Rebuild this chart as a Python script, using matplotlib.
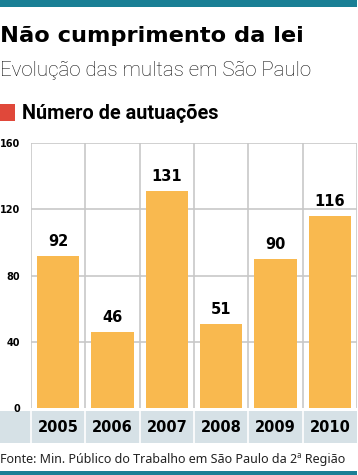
import matplotlib
matplotlib.use("Agg")
import matplotlib.pyplot as plt
from matplotlib.patches import Rectangle
import matplotlib.transforms as mtrans

years = ["2005", "2006", "2007", "2008", "2009", "2010"]
values = [92, 46, 131, 51, 90, 116]
yticks = [0, 40, 80, 120, 160]

W, H = 358, 475
fig = plt.figure(figsize=(W / 100, H / 100), dpi=100)
fig.patch.set_facecolor("white")

TEAL = "#1a7f95"
BAR = "#f9b94f"
BAND = "#d6e1e6"
GRID = "#c8c8c8"
RED = "#e0483a"

def fx(px):
    return px / W

def fy(py):
    return 1 - py / H

# top and bottom teal bands
fig.patches.append(Rectangle((0, fy(7)), fx(357), 7 / H, transform=fig.transFigure,
                             facecolor=TEAL, edgecolor="none"))
fig.patches.append(Rectangle((0, 0), fx(357), 4 / H, transform=fig.transFigure,
                             facecolor=TEAL, edgecolor="none"))

fig.text(0, fy(36), "Não cumprimento da lei", fontsize=16.2, fontweight="heavy",
         color="black", va="center", ha="left", family="DejaVu Sans")
fig.text(0, fy(70), "Evolução das multas em São Paulo", fontsize=14.8, fontweight="light",
         color="#111111", va="center", ha="left", family="Roboto")
fig.patches.append(Rectangle((0, fy(121)), fx(15), 17 / H, transform=fig.transFigure,
                             facecolor=RED, edgecolor="none"))
fig.text(fx(22), fy(113), "Número de autuações", fontsize=14.3, fontweight="bold",
         color="black", va="center", ha="left", family="Roboto")

left, right, top, bottom = 31, 357, 143, 408
ax = fig.add_axes([fx(left), fy(bottom), fx(right - left), (bottom - top) / H])
x = list(range(len(years)))
bars = ax.bar(x, values, width=0.78, color=BAR, zorder=3)
ax.set_xlim(-0.5, len(years) - 0.5)
ax.set_ylim(0, 160)
ax.set_yticks(yticks)
ax.set_yticklabels([str(t) for t in yticks], fontsize=7, fontweight="bold")
ax.tick_params(axis="y", length=0, pad=8)
ax.set_xticks(x)
ax.set_xticklabels(years, fontsize=10.5, fontweight="bold")
ax.tick_params(axis="x", length=0, pad=9)
ax.set_xticks([i - 0.5 for i in range(len(years) + 1)], minor=True)
ax.tick_params(axis="x", which="minor", length=0)
ax.grid(True, which="minor", axis="x", color=GRID, linewidth=1.2, zorder=0)
ax.grid(True, which="major", axis="y", color=GRID, linewidth=1.2, zorder=0)
ax.yaxis.get_gridlines()[0].set_visible(False)
for s in ax.spines.values():
    s.set_visible(False)

for b, v in zip(bars, values):
    ax.annotate(str(v), (b.get_x() + b.get_width() / 2, v), xytext=(0, 5),
                textcoords="offset points", ha="center", va="bottom",
                fontsize=10.5, fontweight="bold", color="black")

# grey label band with white separators (below tick labels)
trans = mtrans.blended_transform_factory(ax.transData, fig.transFigure)
band = Rectangle((0, fy(443)), fx(357), 32 / H, transform=fig.transFigure,
                 facecolor=BAND, edgecolor="none", zorder=0.1, clip_on=False)
ax.add_artist(band)
for i in range(len(years)):
    ax.add_line(plt.Line2D([i - 0.5, i - 0.5], [fy(443), fy(411)], transform=trans,
                           color="white", linewidth=1.2, clip_on=False, zorder=0.2))

fig.text(0, fy(459), "Fonte: Min. Público do Trabalho em São Paulo da 2ª Região",
         fontsize=9, color="#222222", va="center", ha="left", family="Noto Sans")

fig.savefig("out.png", dpi=100)
